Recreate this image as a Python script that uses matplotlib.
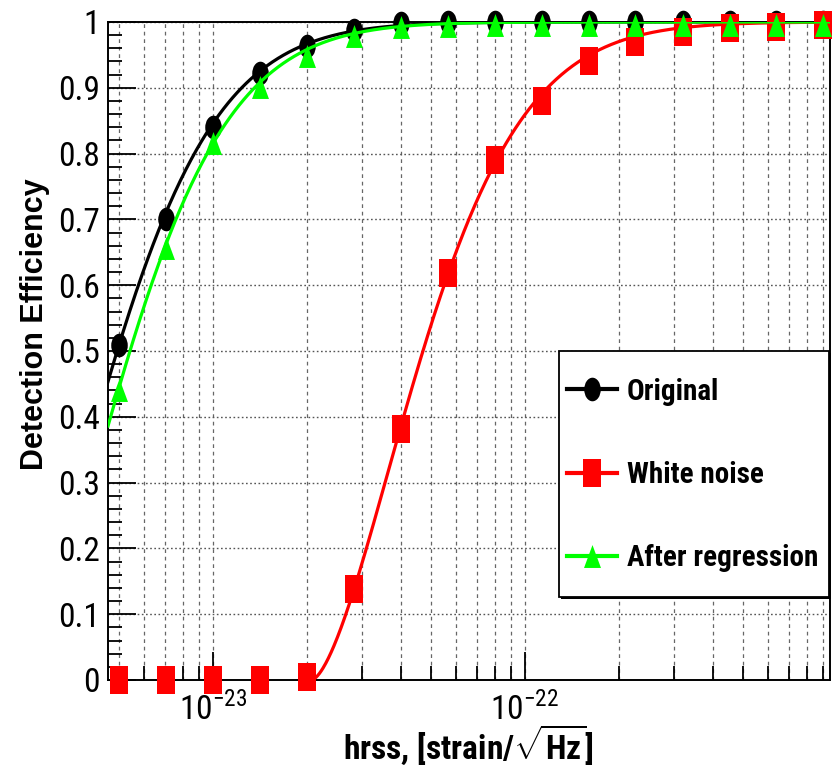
import numpy as np
import matplotlib
matplotlib.use('Agg')
from matplotlib import pyplot as plt
import matplotlib.ticker as mtick
from matplotlib import font_manager
from matplotlib.path import Path
from matplotlib.transforms import Affine2D
from matplotlib.patches import Rectangle
from matplotlib.lines import Line2D

# injected hrss amplitudes (sqrt(2) steps)
hrss = [5.0e-24, 7.07e-24, 1.0e-23, 1.414e-23, 2.0e-23, 2.83e-23, 4.0e-23, 5.66e-23,
        8.0e-23, 1.131e-22, 1.6e-22, 2.26e-22, 3.2e-22, 4.53e-22, 6.4e-22, 9.05e-22]

eff_original = [0.509, 0.700, 0.840, 0.922, 0.963, 0.988, 0.999, 1.0,
                1.0, 1.0, 1.0, 1.0, 1.0, 1.0, 1.0, 1.0]
eff_white = [0.0, 0.0, 0.0, 0.0, 0.005, 0.138, 0.381, 0.619,
             0.790, 0.880, 0.940, 0.970, 0.985, 0.991, 0.993, 0.995]
eff_regression = [0.440, 0.657, 0.816, 0.901, 0.949, 0.979, 0.992, 0.994,
                  0.995, 0.995, 0.995, 0.995, 0.995, 0.995, 0.995, 0.995]

labels = ['Original', 'White noise', 'After regression']
colors = ['black', '#ff0000', '#00ff00']

# efficiency fit: 1 - exp(-((log10 h - logh0)/width)^power)
fit_logh0 = [-23.664, -22.684, -23.623]
fit_width = 0.449
fit_power = 1.6

xticks = [1e-23, 1e-22]
xticklabels = [r'$10^{-23}$', r'$10^{-22}$']
yticks = [0, 0.1, 0.2, 0.3, 0.4, 0.5, 0.6, 0.7, 0.8, 0.9, 1.0]
yticklabels = ['0', '0.1', '0.2', '0.3', '0.4', '0.5', '0.6', '0.7', '0.8', '0.9', '1']

names = {f.name for f in font_manager.fontManager.ttflist}
narrow = next(n for n in ['Nimbus Sans Narrow', 'Liberation Sans Narrow', 'Roboto Condensed',
                          'Archivo Narrow', 'PT Sans Narrow', 'Liberation Sans'] if n in names)

plt.rcParams['font.family'] = [narrow, 'DejaVu Sans']
plt.rcParams['mathtext.fontset'] = 'custom'
plt.rcParams['mathtext.rm'] = narrow
plt.rcParams['mathtext.bf'] = narrow + ':bold'

# markers are a bit taller than wide
circle = Path.unit_circle().transformed(Affine2D().scale(0.7, 1.0))
square = Path.unit_rectangle().transformed(Affine2D().translate(-0.5, -0.5).scale(0.67, 1.0))
triangle = Path([(0, 1), (-0.74, -1), (0.74, -1), (0, 1)],
                [Path.MOVETO, Path.LINETO, Path.LINETO, Path.CLOSEPOLY])
markers = [(circle, 17.0), (square, 19.5), (triangle, 16.5)]


def fit_curve(u, u0):
    d = np.clip(u - u0, 0, None)
    return 1 - np.exp(-(d / fit_width) ** fit_power)


W, H = 839, 765
fig = plt.figure(figsize=(W / 100, H / 100), dpi=100)
ax = fig.add_axes([108 / W, 1 - 680 / H, 722 / W, 658 / H])

xmin, xmax = 4.61e-24, 9.5e-22
u = np.linspace(np.log10(xmin), np.log10(xmax), 800)

series = [eff_original, eff_white, eff_regression]
for i, eff in enumerate(series):
    u0 = fit_logh0[i]
    uu = u[u >= u0]
    ax.plot(10 ** uu, fit_curve(uu, u0), color=colors[i], lw=2.3, zorder=3 + 2 * i)
    ax.plot(hrss, eff, ls='none', marker=markers[i][0], ms=markers[i][1],
            color=colors[i], mew=0, clip_on=False, zorder=4 + 2 * i)

ax.set_xscale('log')
ax.set_xlim(xmin, xmax)
ax.set_ylim(0, 1)

ax.xaxis.set_major_locator(mtick.FixedLocator(xticks))
ax.xaxis.set_major_formatter(mtick.FixedFormatter(xticklabels))
ax.xaxis.set_minor_locator(mtick.LogLocator(base=10, subs=np.arange(2, 10), numticks=20))
ax.xaxis.set_minor_formatter(mtick.NullFormatter())
ax.yaxis.set_major_locator(mtick.FixedLocator(yticks))
ax.yaxis.set_major_formatter(mtick.FixedFormatter(yticklabels))
ax.yaxis.set_minor_locator(mtick.MultipleLocator(0.02))

ax.tick_params(which='both', direction='in', top=False, right=False, width=1.3, labelsize=24)
ax.tick_params(which='major', length=20)
ax.tick_params(which='minor', length=10)
ax.tick_params(axis='x', which='major', pad=9)
ax.tick_params(axis='y', which='major', pad=6)

ax.grid(which='major', axis='y', ls=(0, (1.2, 1.8)), color='#555555', lw=1.0)
ax.grid(which='both', axis='x', ls=(0, (3, 3)), color='#666666', lw=0.9)
for s in ax.spines.values():
    s.set_linewidth(1.4)

fig.text(35 / W, 1 - 324 / H, 'Detection Efficiency', rotation=90, ha='center', va='center',
         family='Liberation Sans', weight='bold', size=22)
fig.text(468 / W, 1 - 759 / H, r'hrss, [strain/$\sqrt{\mathbf{Hz}}$]', ha='center', va='baseline',
         weight='bold', size=24)

# legend box with a small shadow
fig.patches.append(Rectangle((561 / W, 1 - 599 / H), 270 / W, 246 / H, transform=fig.transFigure,
                             facecolor='black', edgecolor='none', zorder=3))
fig.patches.append(Rectangle((559 / W, 1 - 597 / H), 270 / W, 246 / H, transform=fig.transFigure,
                             facecolor='white', edgecolor='black', lw=1.3, zorder=4))

handles = [Line2D([], [], color=colors[i], lw=3, marker=markers[i][0], ms=markers[i][1], mew=0)
           for i in range(3)]
fig.legend(handles, labels, loc='center left', bbox_to_anchor=(567 / W, 1 - 475 / H),
           frameon=False, prop={'weight': 'bold', 'size': 21}, labelspacing=1.9,
           handlelength=1.7, handletextpad=0.35, borderpad=0, borderaxespad=0)

fig.savefig('out.png', dpi=100)
